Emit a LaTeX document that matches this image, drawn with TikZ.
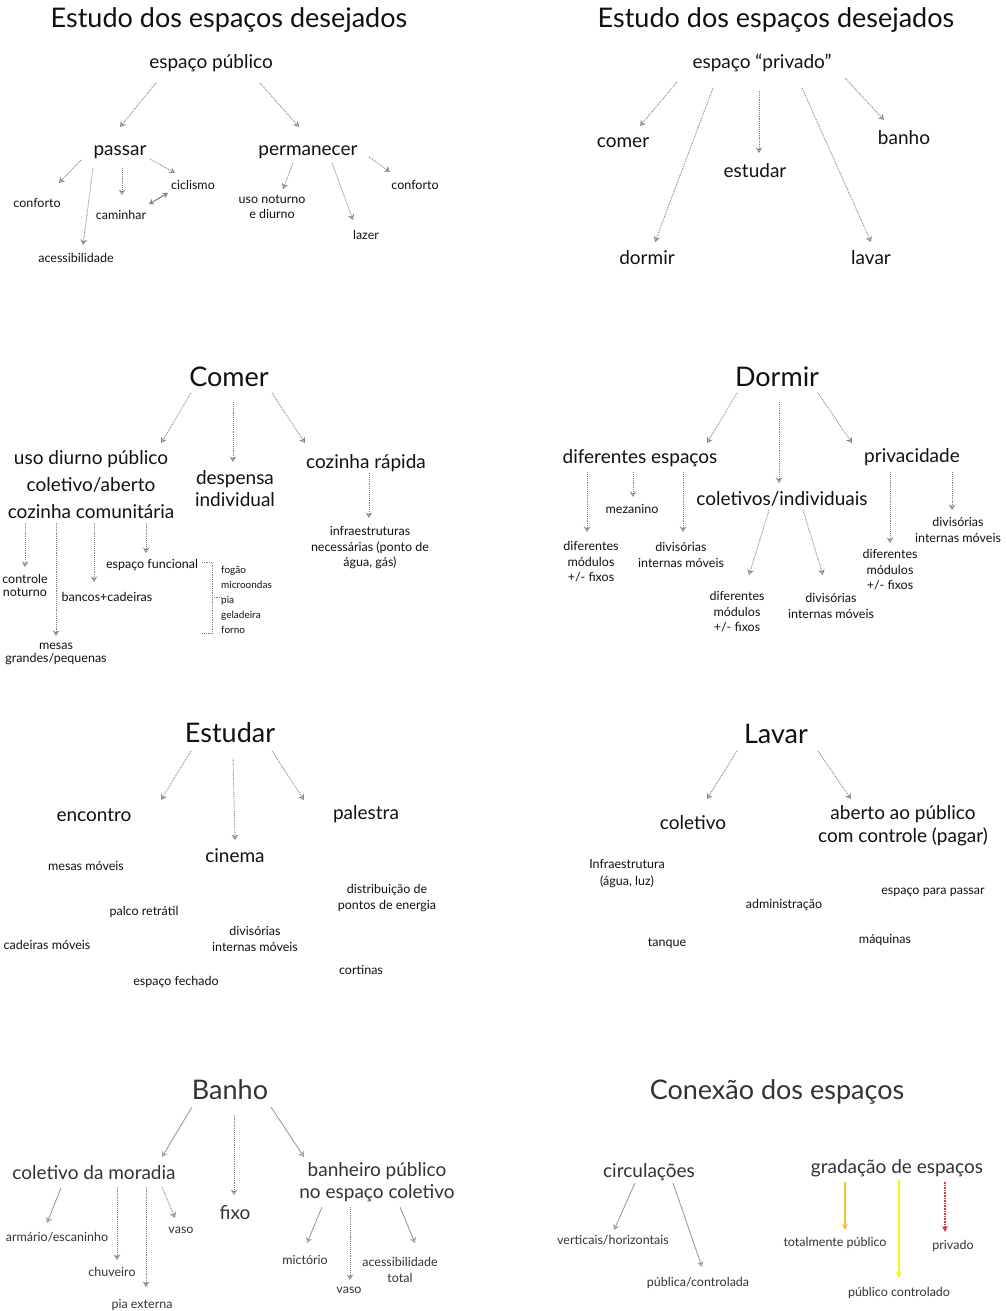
\documentclass[tikz,border=0pt]{standalone}
\usepackage{fontspec}
\setmainfont{Lato}
\usetikzlibrary{arrows.meta,calc}
\definecolor{ink}{HTML}{111111}
\definecolor{dim}{HTML}{333333}
\definecolor{arrgray}{HTML}{858585}
\definecolor{lightarr}{HTML}{9C9C9C}
\definecolor{ambar}{HTML}{F7BE2E}
\definecolor{amarelo}{HTML}{FFEA20}
\definecolor{vermelho}{HTML}{E3343B}
\begin{document}
\begin{tikzpicture}[x=1pt,y=-1pt,
  every node/.style={inner sep=0pt, text=ink},
  ttl/.style={font=\fontsize{27}{30}\selectfont},
  lg/.style={font=\fontsize{19}{23}\selectfont, align=center},
  sm/.style={font=\fontsize{12.5}{15.5}\selectfont, align=center},
  xs/.style={font=\fontsize{10}{15}\selectfont, align=left},
  faded/.style={text=dim},
  arr/.style={draw=arrgray, densely dotted, line width=0.9pt, -{Stealth[open,length=5.5pt,width=6.5pt,line width=0.8pt]}},
  sarr/.style={draw=lightarr, line width=0.9pt, -{Stealth[open,length=5.5pt,width=6.5pt,line width=0.8pt]}},
  dbl/.style={draw=gray, line width=1pt, {Stealth[open,length=5pt,width=6pt,line width=0.8pt]}-{Stealth[open,length=5pt,width=6pt,line width=0.8pt]}},
  brk/.style={draw=arrgray, densely dotted, line width=0.8pt},
  carr/.style={draw=#1, line width=1.6pt, -{Stealth[length=6pt,width=6pt]}}
]
\fill[white] (0,0) rectangle (1006,1311);
\useasboundingbox (0,0) rectangle (1006,1311);

% ---------- Estudo (público) ----------
\node[ttl] (t1) at (229,20) {Estudo dos espaços desejados};
\node[lg] (pub) at (211,63) {espaço público};
\node[lg] (passar) at (120,152) {passar};
\node[lg] (perm) at (308,152) {permanecer};
\node[sm] (conf1) at (37,203) {conforto};
\node[sm] (acess) at (76,258) {acessibilidade};
\node[sm] (camin) at (121,215) {caminhar};
\node[sm] (cicl) at (193,185) {ciclismo};
\node[sm] (uso) at (272,207) {uso noturno\\e diurno};
\node[sm] (lazer) at (366,235) {lazer};
\node[sm] (conf2) at (415,185) {conforto};
\draw[arr] ($(pub)+(-55,20)$) -- ($(passar)+(0,-25)$);
\draw[arr] ($(pub)+(49,20)$) -- ($(perm)+(-9,-25)$);
\draw[arr] ($(passar)+(-39,8)$) -- ($(conf1)+(22,-20)$);
\draw[arr] ($(passar)+(-27,16)$) -- ($(acess)+(7,-13)$);
\draw[arr] ($(passar)+(2,16)$) -- ($(camin)+(1,-20)$);
\draw[arr] ($(passar)+(30,7)$) -- ($(cicl)+(-18,-12)$);
\draw[dbl] ($(camin)+(28,-11)$) -- ($(cicl)+(-25,8)$);
\draw[arr] ($(perm)+(-15,11)$) -- ($(uso)+(11,-18)$);
\draw[arr] ($(perm)+(24,11)$) -- ($(lazer)+(-13,-15)$);
\draw[arr] ($(perm)+(61,5)$) -- ($(conf2)+(-25,-13)$);

% ---------- Estudo (privado) ----------
\node[ttl] (t2) at (776,20) {Estudo dos espaços desejados};
\node[lg] (priv) at (762,63) {espaço “privado”};
\node[lg] (pcomer) at (623,143) {comer};
\node[lg] (pdormir) at (647,258) {dormir};
\node[lg] (pestudar) at (755,171) {estudar};
\node[lg] (plavar) at (871,258) {lavar};
\node[lg] (pbanho) at (904,138) {banho};
\draw[arr] ($(priv)+(-85,19)$) -- ($(pcomer)+(17,-17)$);
\draw[arr] ($(priv)+(-49,25)$) -- ($(pdormir)+(8,-16)$);
\draw[arr] ($(priv)+(-3,28)$) -- ($(pestudar)+(4,-18)$);
\draw[arr] ($(priv)+(40,25)$) -- ($(plavar)+(0,-16)$);
\draw[arr] ($(priv)+(83,15)$) -- ($(pbanho)+(-20,-18)$);

% ---------- Comer ----------
\node[ttl] (comerT) at (229,377) {Comer};
\node[lg, font=\fontsize{19}{27}\selectfont] (cmA) at (91,485) {uso diurno público\\coletivo/aberto\\cozinha comunitária};
\node[lg, font=\fontsize{19}{22}\selectfont] (desp) at (235,489) {despensa\\individual};
\node[lg] (rap) at (366,463) {cozinha rápida};
\node[sm] (infra) at (370,548) {infraestruturas\\necessárias (ponto de\\água, gás)};
\node[sm, font=\fontsize{12.5}{13}\selectfont] (ctrl) at (25,585) {controle\\noturno};
\node[sm, font=\fontsize{12.5}{13}\selectfont] (mesas) at (56,654) {mesas\\grandes/pequenas};
\node[sm] (bancos) at (107,597) {bancos+cadeiras};
\node[sm] (espf) at (152,565) {espaço funcional};
\node[xs, anchor=west] (lista) at (221,600) {fogão\\microondas\\pia\\geladeira\\forno};
\draw[arr] ($(comerT)+(-38,16)$) -- ($(cmA)+(70,-42)$);
\draw[arr] ($(comerT)+(4,25)$) -- ($(desp)+(-2,-27)$);
\draw[arr] ($(comerT)+(43,16)$) -- ($(rap)+(-61,-20)$);
\draw[arr] ($(rap)+(3,10)$) -- ($(infra)+(-1,-30)$);
\draw[arr] ($(cmA)+(-66,38)$) -- ($(ctrl)+(0,-18)$);
\draw[arr] ($(cmA)+(-35,38)$) -- ($(mesas)+(0,-18)$);
\draw[arr] ($(cmA)+(3,38)$) -- ($(bancos)+(-13,-15)$);
\draw[arr] ($(cmA)+(55,38)$) -- ($(espf)+(-6,-12)$);
\draw[brk] ($(lista.west)+(-19,-38)$) -- ($(lista.west)+(-9,-38)$) -- ($(lista.west)+(-9,33)$) -- ($(lista.west)+(-19,33)$);
\draw[brk] ($(lista.west)+(-9,-3)$) -- ($(lista.west)+(1,-3)$);

% ---------- Dormir ----------
\node[ttl] (dormT) at (777,377) {Dormir};
\node[lg] (de) at (640,458) {diferentes espaços};
\node[lg] (ci) at (782,499) {coletivos/individuais};
\node[lg] (pr) at (912,457) {privacidade};
\node[sm] (dm1) at (591,562) {diferentes\\módulos\\+/- fixos};
\node[sm] (mez) at (632,509) {mezanino};
\node[sm] (dv1) at (681,555) {divisórias\\internas móveis};
\node[sm] (dm2) at (737,612) {diferentes\\módulos\\+/- fixos};
\node[sm] (dv2) at (831,606) {divisórias\\internas móveis};
\node[sm] (dm3) at (890,570) {diferentes\\módulos\\+/- fixos};
\node[sm] (dv3) at (958,530) {divisórias\\internas móveis};
\draw[arr] ($(dormT)+(-40,16)$) -- ($(de)+(67,-15)$);
\draw[arr] ($(dormT)+(2,25)$) -- ($(ci)+(-3,-16)$);
\draw[arr] ($(dormT)+(41,16)$) -- ($(pr)+(-60,-14)$);
\draw[arr] ($(de)+(-53,14)$) -- ($(dm1)+(-4,-30)$);
\draw[arr] ($(de)+(-7,14)$) -- ($(mez)+(1,-12)$);
\draw[arr] ($(de)+(43,14)$) -- ($(dv1)+(2,-23)$);
\draw[arr] ($(ci)+(-13,11)$) -- ($(dm2)+(12,-37)$);
\draw[arr] ($(ci)+(21,11)$) -- ($(dv2)+(-8,-31)$);
\draw[arr] ($(pr)+(-22,15)$) -- ($(dm3)+(0,-27)$);
\draw[arr] ($(pr)+(40,15)$) -- ($(dv3)+(-6,-20)$);

% ---------- Estudar ----------
\node[ttl] (estT) at (230,733) {Estudar};
\node[lg] (enc) at (94,815) {encontro};
\node[lg] (cin) at (235,856) {cinema};
\node[lg] (pal) at (366,814) {palestra};
\node[sm] (e1) at (86,866) {mesas móveis};
\node[sm] (e2) at (144,912) {palco retrátil};
\node[sm] (e3) at (47,945) {cadeiras móveis};
\node[sm] (e4) at (176,982) {espaço fechado};
\node[sm] (e5) at (255,939) {divisórias\\internas móveis};
\node[sm] (e6) at (387,898) {distribuição de\\pontos de energia};
\node[sm] (e7) at (361,970) {cortinas};
\draw[arr] ($(estT)+(-39,18)$) -- ($(enc)+(67,-15)$);
\draw[arr] ($(estT)+(3,25)$) -- ($(cin)+(0,-16)$);
\draw[arr] ($(estT)+(42,18)$) -- ($(pal)+(-62,-14)$);

% ---------- Lavar ----------
\node[ttl] (lavT) at (776,734) {Lavar};
\node[lg] (col) at (693,823) {coletivo};
\node[lg, font=\fontsize{19}{23}\selectfont] (ab) at (903,826) {aberto ao público\\com controle (pagar)};
\node[sm, font=\fontsize{12.5}{17}\selectfont] (l1) at (627,874) {Infraestrutura\\(água, luz)};
\node[sm] (l2) at (784,905) {administração};
\node[sm] (l3) at (933,892) {espaço para passar};
\node[sm] (l4) at (667,943) {tanque};
\node[sm] (l5) at (885,940) {máquinas};
\draw[arr] ($(lavT)+(-39,17)$) -- ($(col)+(14,-24)$);
\draw[arr] ($(lavT)+(42,17)$) -- ($(ab)+(-52,-27)$);

% ---------- Banho ----------
\begin{scope}[every node/.append style={faded}]
\node[ttl] (banT) at (230,1090) {Banho};
\node[lg] (cm) at (94,1173) {coletivo da moradia};
\node[lg] (fixo) at (235,1213) {fixo};
\node[lg, font=\fontsize{19}{21.5}\selectfont] (bp) at (377,1182) {banheiro público\\no espaço coletivo};
\node[sm] (arm) at (57,1237) {armário/escaninho};
\node[sm] (chu) at (112,1272) {chuveiro};
\node[sm] (pia) at (142,1305) {pia externa};
\node[sm] (vaso1) at (181,1230) {vaso};
\node[sm] (mic) at (305,1260) {mictório};
\node[sm] (vaso2) at (349,1290) {vaso};
\node[sm] (act) at (400,1270) {acessibilidade\\total};
\end{scope}
\draw[sarr] ($(banT)+(-38,17)$) -- ($(cm)+(68,-16)$);
\draw[arr] ($(banT)+(4,25)$) -- ($(fixo)+(-1,-18)$);
\draw[sarr] ($(banT)+(41,17)$) -- ($(bp)+(-73,-25)$);
\draw[sarr] ($(cm)+(-33,15)$) -- ($(arm)+(-10,-14)$);
\draw[arr] ($(cm)+(23,14)$) -- ($(chu)+(5,-12)$);
\draw[arr] ($(cm)+(52,14)$) -- ($(pia)+(4,-18)$);
\draw[arr] ($(cm)+(68,14)$) -- ($(vaso1)+(-6,-12)$);
\draw[sarr] ($(bp)+(-55,25)$) -- ($(mic)+(2,-17)$);
\draw[arr] ($(bp)+(-27,25)$) -- ($(vaso2)+(1,-10)$);
\draw[sarr] ($(bp)+(23,25)$) -- ($(act)+(15,-27)$);

% ---------- Conexão ----------
\begin{scope}[every node/.append style={faded}]
\node[ttl] (conT) at (777,1092) {Conexão dos espaços};
\node[lg] (circ) at (649,1172) {circulações};
\node[lg] (grad) at (897,1168) {gradação de espaços};
\node[sm] (vh) at (613,1240) {verticais/horizontais};
\node[sm] (pcl) at (698,1283) {pública/controlada};
\node[sm] (tp) at (835,1243) {totalmente público};
\node[sm] (pcont) at (899,1293) {público controlado};
\node[sm] (privd) at (953,1246) {privado};
\end{scope}
\draw[sarr] ($(circ)+(-14,11)$) -- ($(vh)+(1,-10)$);
\draw[sarr] ($(circ)+(24,11)$) -- ($(pcl)+(4,-16)$);
\draw[carr=ambar] ($(grad)+(-52,14)$) -- ($(tp)+(10,-13)$);
\draw[carr=amarelo] ($(grad)+(2,12)$) -- ($(pcont)+(0,-15)$);
\draw[carr=vermelho, densely dotted] ($(grad)+(48,14)$) -- ($(privd)+(-8,-14)$);
\end{tikzpicture}
\end{document}
